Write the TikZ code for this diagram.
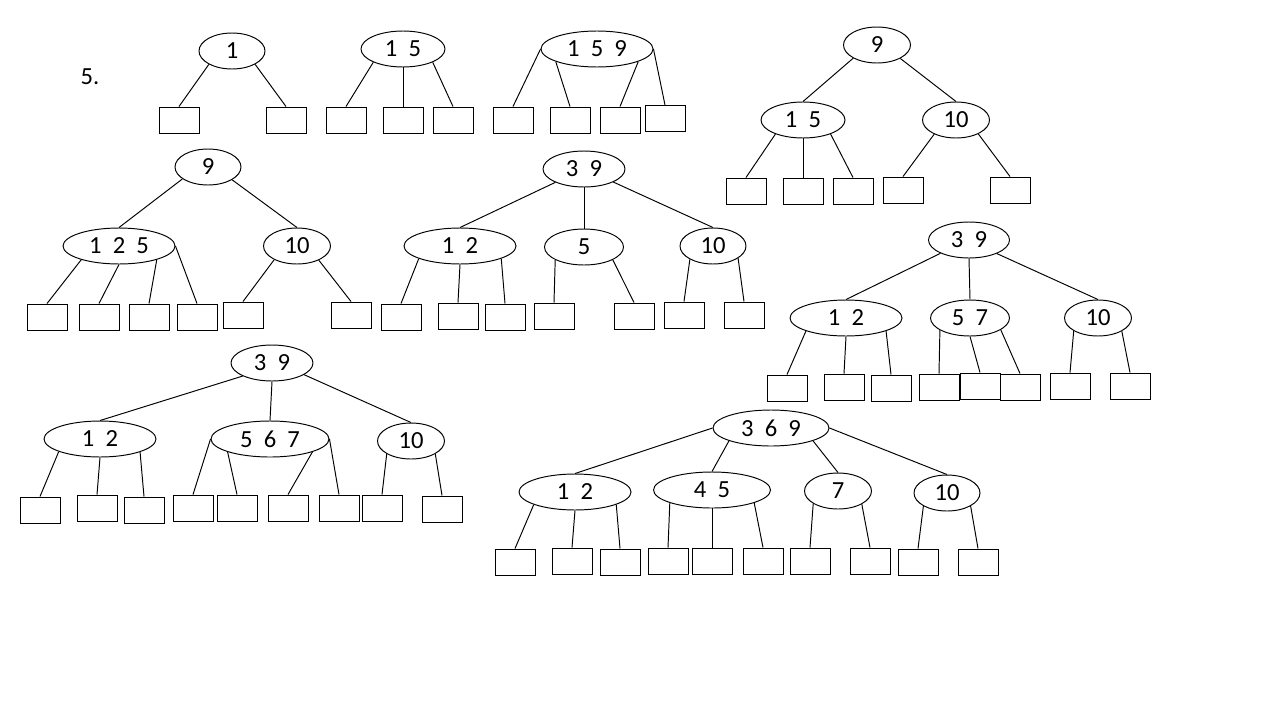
\documentclass[tikz,border=0pt]{standalone}
\usepackage{fontspec}
\setmainfont{Carlito}
\usetikzlibrary{shapes.geometric}

\begin{document}
\begin{tikzpicture}[x=.02cm,y=-.02cm,line width=.55pt,
font=\fontsize{14}{16}\selectfont,
keys/.style={draw,ellipse,minimum height=.72cm,inner sep=1pt},
box/.style={draw,rectangle,minimum width=.8cm,minimum height=.52cm}]
\useasboundingbox (0,0) rectangle (1280,720);
\node (num) at (90,77) {5.};

\node (ar) [keys,minimum width=1.32cm] at (232,51) {1};
\node (ab1) [box] at (179,120) {};
\node (ab2) [box] at (286,120) {};
\draw (ar.210) -- (ab1.north);
\draw (ar.330) -- (ab2.north);

\node (br) [keys,minimum width=1.68cm] at (403,49) {1~~5};
\node (bb1) [box] at (346,120) {};
\node (bb2) [box] at (403,120) {};
\node (bb3) [box] at (453,120) {};
\draw (br.204) -- (bb1.north);
\draw (br.south) -- (bb2.north);
\draw (br.336) -- (bb3.north);

\node (cr) [keys,minimum width=2.24cm] at (597,49) {1~~5~~9};
\node (cb1) [box] at (513,120) {};
\node (cb2) [box] at (570,120) {};
\node (cb3) [box] at (620,120) {};
\node (cb4) [box] at (665,118.5) {};
\draw (cr.west) -- (cb1.north);
\draw (cr.197) -- (cb2.north);
\draw (cr.343) -- (cb3.north);
\draw (cr.east) -- (cb4.north);

\node (dr) [keys,minimum width=1.34cm] at (877,45) {9};
\node (dc1) [keys,minimum width=1.68cm] at (803,120) {1~~5};
\node (dc2) [keys,minimum width=1.34cm] at (956,120) {10};
\node (db1) [box] at (746,191) {};
\node (db2) [box] at (803,191) {};
\node (db3) [box] at (853,191) {};
\node (db4) [box] at (903,190) {};
\node (db5) [box] at (1010,190) {};
\draw (dr.209) -- (dc1.north);
\draw (dr.330) -- (dc2.north);
\draw (dc1.207) -- (db1.north);
\draw (dc1.south) -- (db2.north);
\draw (dc1.333) -- (db3.north);
\draw (dc2.213) -- (db4.north);
\draw (dc2.328) -- (db5.north);

\node (er) [keys,minimum width=1.32cm] at (208,167) {9};
\node (ec1) [keys,minimum width=2.24cm] at (119,246) {1~~2~~5};
\node (ec2) [keys,minimum width=1.34cm] at (297,246) {10};
\node (eb1) [box] at (47,317) {};
\node (eb2) [box] at (99,317) {};
\node (eb3) [box] at (149,317) {};
\node (eb4) [box] at (197,317) {};
\node (eb5) [box] at (243,315) {};
\node (eb6) [box] at (351,315) {};
\draw (er.205) -- (ec1.north);
\draw (er.332) -- (ec2.north);
\draw (ec1.200) -- (eb1.north);
\draw (ec1.south) -- (eb2.north);
\draw (ec1.340) -- (eb3.north);
\draw (ec1.east) -- (eb4.north);
\draw (ec2.211) -- (eb5.north);
\draw (ec2.327) -- (eb6.north);

\node (fr) [keys,minimum width=1.64cm] at (584,169) {3~~9};
\node (fc1) [keys,minimum width=2.24cm] at (460,246) {1~~2};
\node (fc2) [keys,minimum width=1.58cm] at (584,247) {5};
\node (fc3) [keys,minimum width=1.32cm] at (713,246) {10};
\node (fb1) [box] at (401,317) {};
\node (fb2) [box] at (458,316) {};
\node (fb3) [box] at (505,317) {};
\node (fb4) [box] at (554,316) {};
\node (fb5) [box] at (634,316) {};
\node (fb6) [box] at (684,315) {};
\node (fb7) [box] at (744,315) {};
\draw (fr.205) -- (fc1.north);
\draw (fr.south) -- (fc2.north);
\draw (fr.336) -- (fc3.north);
\draw (fc1.197) -- (fb1.north);
\draw (fc1.south) -- (fb2.north);
\draw (fc1.343) -- (fb3.north);
\draw (fc2.204) -- (fb4.north);
\draw (fc2.336) -- (fb5.north);
\draw (fc3.210) -- (fb6.north);
\draw (fc3.334) -- (fb7.north);

\node (gr) [keys,minimum width=1.62cm] at (969,240) {3~~9};
\node (gc1) [keys,minimum width=2.24cm] at (846,318) {1~~2};
\node (gc2) [keys,minimum width=1.58cm] at (970,318) {5~~7};
\node (gc3) [keys,minimum width=1.34cm] at (1098,318) {10};
\node (gb1) [box] at (787,388) {};
\node (gb2) [box] at (844,387) {};
\node (gb3) [box] at (891,388) {};
\node (gb4) [box] at (939,387) {};
\node (gb5) [box] at (980,386) {};
\node (gb6) [box] at (1020,387) {};
\node (gb7) [box] at (1070,386) {};
\node (gb8) [box] at (1130,386) {};
\draw (gr.205) -- (gc1.north);
\draw (gr.south) -- (gc2.north);
\draw (gr.334) -- (gc3.north);
\draw (gc1.198) -- (gb1.north);
\draw (gc1.south) -- (gb2.north);
\draw (gc1.342) -- (gb3.north);
\draw (gc2.202) -- (gb4.north);
\draw (gc2.south) -- (gb5.north);
\draw (gc2.339) -- (gb6.north);
\draw (gc3.208) -- (gb7.north);
\draw (gc3.331) -- (gb8.north);

\node (hr) [keys,minimum width=1.64cm] at (272,363) {3~~9};
\node (hc1) [keys,minimum width=2.24cm] at (100,439) {1~~2};
\node (hc2) [keys,minimum width=2.36cm] at (270,439) {5~~6~~7};
\node (hc3) [keys,minimum width=1.34cm] at (411,441) {10};
\node (hb1) [box] at (40,510) {};
\node (hb2) [box] at (97,508) {};
\node (hb3) [box] at (144,510) {};
\node (hb4) [box] at (193,508) {};
\node (hb5) [box] at (237,508) {};
\node (hb6) [box] at (288,508) {};
\node (hb7) [box] at (339,508) {};
\node (hb8) [box] at (382,508) {};
\node (hb9) [box] at (442,509) {};
\draw (hr.204) -- (hc1.north);
\draw (hr.south) -- (hc2.north);
\draw (hr.340) -- (hc3.north);
\draw (hc1.197) -- (hb1.north);
\draw (hc1.south) -- (hb2.north);
\draw (hc1.342) -- (hb3.north);
\draw (hc2.west) -- (hb4.north);
\draw (hc2.197) -- (hb5.north);
\draw (hc2.343) -- (hb6.north);
\draw (hc2.east) -- (hb7.north);
\draw (hc3.208) -- (hb8.north);
\draw (hc3.332) -- (hb9.north);

\node (ir) [keys,minimum width=2.32cm] at (771,428) {3~~6~~9};
\node (ic1) [keys,minimum width=2.24cm] at (575,492) {1~~2};
\node (ic2) [keys,minimum width=2.34cm] at (712,490) {4~~5};
\node (ic3) [keys,minimum width=1.34cm] at (838,491) {7};
\node (ic4) [keys,minimum width=1.32cm] at (947,493) {10};
\node (ib1) [box] at (515,562) {};
\node (ib2) [box] at (572,561) {};
\node (ib3) [box] at (620,562) {};
\node (ib4) [box] at (668,561) {};
\node (ib5) [box] at (712,561) {};
\node (ib6) [box] at (763,561) {};
\node (ib7) [box] at (810,561) {};
\node (ib8) [box] at (870,561) {};
\node (ib9) [box] at (918,562) {};
\node (ib10) [box] at (978,562) {};
\draw (ir.west) -- (ic1.north);
\draw (ir.197) -- (ic2.north);
\draw (ir.343) -- (ic3.north);
\draw (ir.east) -- (ic4.north);
\draw (ic1.197) -- (ib1.north);
\draw (ic1.south) -- (ib2.north);
\draw (ic1.343) -- (ib3.north);
\draw (ic2.197) -- (ib4.north);
\draw (ic2.south) -- (ib5.north);
\draw (ic2.343) -- (ib6.north);
\draw (ic3.207) -- (ib7.north);
\draw (ic3.331) -- (ib8.north);
\draw (ic4.209) -- (ib9.north);
\draw (ic4.331) -- (ib10.north);
\end{tikzpicture}
\end{document}
